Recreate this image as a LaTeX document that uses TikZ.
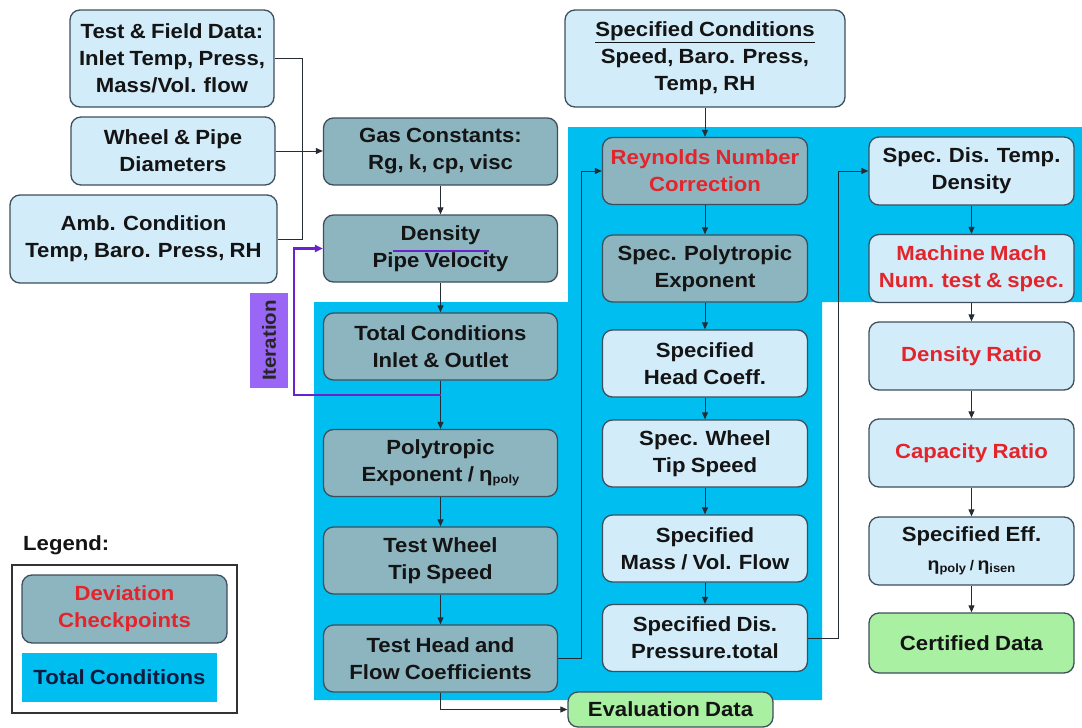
\documentclass[tikz,border=0pt]{standalone}
\usepackage{fontspec}
\setmainfont{Liberation Sans}[FakeStretch=1.08, WordSpace=0.85]
\usetikzlibrary{arrows.meta,calc}

\definecolor{cyanbg}{HTML}{00BEF0}
\definecolor{boxlight}{HTML}{D2ECFA}
\definecolor{boxteal}{HTML}{8DB5C0}
\definecolor{boxgreen}{HTML}{A9F0A2}
\definecolor{boxedge}{HTML}{3E4E5C}
\definecolor{txtred}{HTML}{E3242B}
\definecolor{txtdark}{HTML}{141414}
\definecolor{iterviolet}{HTML}{6A22CF}
\definecolor{iterfill}{HTML}{9966F5}
\definecolor{legendnavy}{HTML}{0E1A3E}
\definecolor{wirecol}{HTML}{262C34}

\newcommand{\etasub}[2]{{\fontsize{#1}{#1}\selectfont η}{\fontsize{12}{12}\selectfont\raisebox{-1.5pt}{#2}}}

\begin{document}
\begin{tikzpicture}[x=1pt,y=-1pt,
  every node/.style={font=\bfseries\fontsize{20.5}{27}\selectfont, text=txtdark},
  box/.style={draw=boxedge, line width=1.3pt, rounded corners=10pt, align=center, inner sep=0pt},
  lbox/.style={box, fill=boxlight},
  dbox/.style={box, fill=boxteal},
  gbox/.style={box, fill=boxgreen},
  colL/.style={minimum width=234pt, minimum height=67pt},
  colM/.style={minimum width=205pt, minimum height=67pt},
  alert/.style={text=txtred},
  wire/.style={draw=wirecol, line width=1pt},
  flow/.style={wire, -{Triangle[length=7pt,width=6pt]}},
  itline/.style={draw=iterviolet, line width=2.4pt},
]
\useasboundingbox (0,0) rectangle (1082,728);

% region of total conditions
\fill[cyanbg] (314,302) -- (568,302) -- (568,127) -- (1082,127) -- (1082,302)
  -- (822,302) -- (822,700) -- (314,700) -- cycle;

% input data
\node[lbox, minimum width=204pt, minimum height=97pt] (TF) at (172,58.5)
  {Test \& Field Data:\\Inlet Temp, Press,\\Mass/Vol. flow};
\node[lbox, minimum width=204pt, minimum height=68pt] (WP) at (173,151)
  {Wheel \& Pipe\\Diameters};
\node[lbox, minimum width=267pt, minimum height=88pt] (AC) at (143.5,239)
  {Amb. Condition\\Temp, Baro. Press, RH};

% test evaluation column
\node[dbox, colL] (GC) at (440.5,151.5) {Gas Constants:\\Rg, k, cp, visc};
\node[dbox, colL] (DN) at (440.5,248.5) {Density\\Pipe Velocity};
\node[dbox, colL] (TC) at (440.5,346.5) {Total Conditions\\Inlet \& Outlet};
\node[dbox, colL] (PE) at (440.5,463) {Polytropic\\Exponent / \etasub{20.5}{poly}};
\node[dbox, colL] (TW) at (440.5,560.5) {Test Wheel\\Tip Speed};
\node[dbox, colL] (TH) at (440.5,658.5) {Test Head and\\Flow Coefficients};
\node[gbox, minimum width=205pt, minimum height=35pt] (ED) at (670.5,709.5) {Evaluation Data};

% specified conditions column
\node[lbox, minimum width=280pt, minimum height=97pt] (SC) at (705,58.5)
  {\underline{Specified Conditions}\\Speed, Baro. Press,\\Temp, RH};
\node[dbox, colM, alert] (RN) at (705,171) {Reynolds Number\\Correction};
\node[dbox, colM] (SP) at (705,268.5) {Spec. Polytropic\\Exponent};
\node[lbox, colM] (SH) at (705,363.5) {Specified\\Head Coeff.};
\node[lbox, colM] (SW) at (705,453.5) {Spec. Wheel\\Tip Speed};
\node[lbox, colM] (SM) at (705,548.5) {Specified\\Mass / Vol. Flow};
\node[lbox, colM] (SD) at (705,638) {Specified Dis.\\Pressure.total};

% certification column
\node[lbox, colM, minimum height=68pt] (SDT) at (971.5,171) {Spec. Dis. Temp.\\Density};
\node[lbox, colM, minimum height=68pt, alert] (MM) at (971.5,268.5) {Machine Mach\\Num. test \& spec.};
\node[lbox, colM, minimum height=68pt, alert] (DR) at (971.5,356) {Density Ratio};
\node[lbox, colM, minimum height=68pt, alert] (CR) at (971.5,453) {Capacity Ratio};
\node[lbox, colM, minimum height=68pt] (SE) at (971.5,551)
  {Specified Eff.\\[2pt]\etasub{18}{poly}{\fontsize{14}{14}\selectfont\ /\ }\etasub{18}{isen}};
\node[gbox, colM, minimum height=60pt] (CD) at (971.5,643) {Certified Data};

% iteration loop
\node[fill=iterfill, minimum width=38pt, minimum height=95pt, inner sep=0pt] (IT) at (269,340.5) {};
\node[rotate=90, font=\bfseries\fontsize{19}{22}\selectfont, text=black!85] (ITL) at (IT.center) {Iteration};
\coordinate (itj) at (440.5,395);
\coordinate (itc) at (294,248.5);

% connectors from input data
\coordinate (jx) at (302,0);
\draw[wire] (TF.east) -- (TF.east -| jx) |- (AC.east);
\draw[flow] (WP.east) -- (WP.east -| GC.west);

% test evaluation flow
\draw[flow] (GC) -- (DN);
\draw[flow] (DN) -- (TC);
\draw[flow] (TC) -- (PE);
\draw[flow] (PE) -- (TW);
\draw[flow] (TW) -- (TH);
\draw[flow] (TH.south) |- (ED.west);
\coordinate (ja) at (581,0);
\draw[flow] (TH.east) -- (TH.east -| ja) |- (RN.west);

% specified flow
\draw[flow] (SC.south -| RN.north) -- (RN.north);
\draw[flow] (RN) -- (SP);
\draw[flow] (SP) -- (SH);
\draw[flow] (SH) -- (SW);
\draw[flow] (SW) -- (SM);
\draw[flow] (SM) -- (SD);
\coordinate (jb) at (838,0);
\draw[flow] (SD.east) -- (SD.east -| jb) |- (SDT.west);

% certification flow
\draw[flow] (SDT) -- (MM);
\draw[flow] (MM) -- (DR);
\draw[flow] (DR) -- (CR);
\draw[flow] (CR) -- (SE);
\draw[flow] (SE) -- (CD);

% iteration path back to density
\draw[itline, -{Triangle[length=8pt,width=7pt]}] (itj) -| (itc) -- (DN.west);
\draw[itline, line width=2pt] ($(DN.center)+(-48,2.5)$) -- ($(DN.center)+(48,2.5)$);

% legend
\node[anchor=base west, inner sep=0pt] (LG) at (23,550) {Legend:};
\node[draw=black!80, line width=1.8pt, minimum width=225pt, minimum height=148pt, inner sep=0pt] (LB) at (124.5,639) {};
\node[dbox, alert, minimum width=205pt, minimum height=68pt] (LD) at (124.5,609) {Deviation\\Checkpoints};
\node[fill=cyanbg, minimum width=195pt, minimum height=49pt, inner sep=0pt, text=legendnavy] (LT) at (119.5,677.5) {Total Conditions};
\end{tikzpicture}
\end{document}
